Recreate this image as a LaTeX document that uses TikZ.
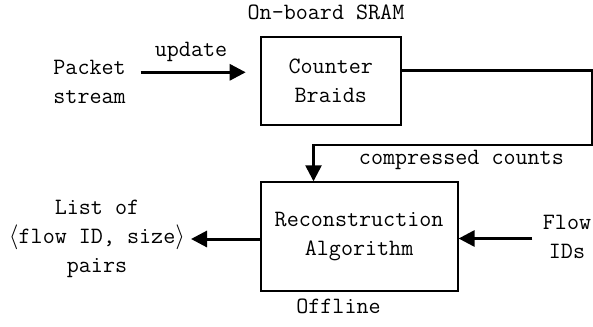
\documentclass[tikz,border=0pt]{standalone}
\usepackage{fontspec}
\usetikzlibrary{arrows.meta}
\begin{document}
\begin{tikzpicture}[x=1pt,y=-1pt,
  txt/.style={font=\fontsize{23.4}{29}\selectfont\ttfamily, inner sep=0pt, align=center},
  blk/.style={draw, line width=2pt, inner sep=0pt, txt},
  arr/.style={line width=3pt, -{Triangle[length=16pt,width=16pt]}},
  conn/.style={line width=2.5pt, -{Triangle[length=16pt,width=16pt]}}]
\useasboundingbox (0,0) rectangle (593,326);
\node[blk, minimum width=140pt, minimum height=88pt] (b1) at (330.8,80.9) {Counter\\Braids};
\node[blk, minimum width=197pt, minimum height=109pt] (b2) at (359.1,236.8) {Reconstruction\\Algorithm};
\node[txt] (sram) at (326,12.7) {On-board SRAM};
\node[txt] (off) at (338.5,306.7) {Offline};
\node[txt] (pkt) at (89.6,82.3) {Packet\\stream};
\node[txt] (upd) at (191,52) {update};
\node[txt] (cc) at (461.4,160) {compressed counts};
\node[txt] (list) at (97,239) {List of\\$\langle$flow ID, size$\rangle$\\pairs};
\node[txt] (flow) at (567,236.5) {Flow\\IDs};
\coordinate (u0) at (140.7,72.3);
\coordinate (u1) at (245.7,72.3);
\coordinate (r1) at (592,70.7);
\coordinate (r2) at (313.5,145);
\coordinate (l1) at (191,239);
\coordinate (f0) at (532.3,238.5);
\draw[arr] (u0) -- (u1);
\draw[conn] (b1.east |- r1) -- (r1) |- (r2) -- (r2 |- b2.north);
\draw[arr] (b2.west |- l1) -- (l1);
\draw[arr] (f0) -- (b2.east |- f0);
\end{tikzpicture}
\end{document}
